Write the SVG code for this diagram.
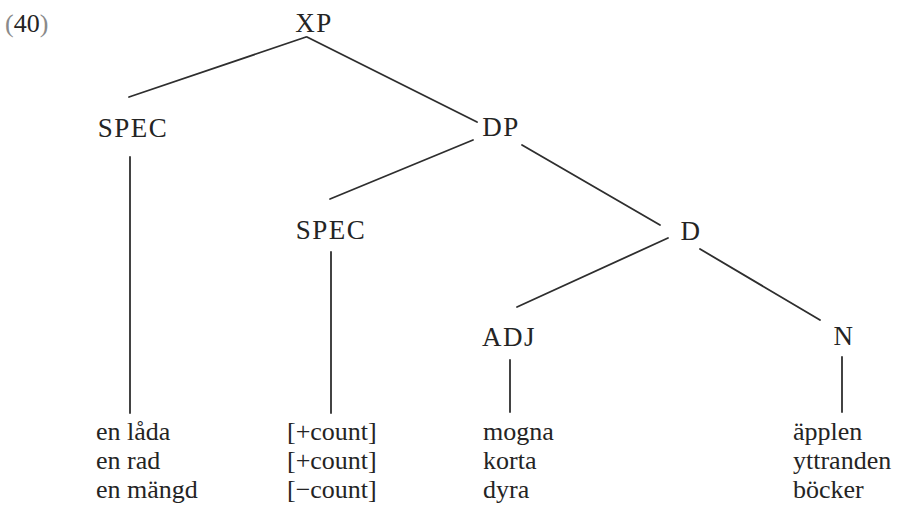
<svg xmlns="http://www.w3.org/2000/svg" width="904" height="523" viewBox="0 0 904 523">
  <style>
    text { font-family: "Liberation Serif", "Times New Roman", serif; font-size: 26px; fill: #242424; }
    .cat { text-anchor: middle; font-size: 27px; letter-spacing: 1.5px; }
    .paren { fill: #8a8a8a; }
    .edges line { stroke: #2e2e2e; stroke-width: 1.8; stroke-linecap: round; }
  </style>
  <rect width="904" height="523" fill="#fff"/>

  <!-- example number -->
  <text id="exnum" x="5" y="32"><tspan class="paren">(</tspan>40<tspan class="paren">)</tspan></text>

  <!-- tree branches -->
  <g class="edges" id="edges">
    <line x1="306" y1="37" x2="129" y2="97"/>
    <line x1="307" y1="37" x2="477" y2="122"/>
    <line x1="473" y1="140" x2="330" y2="199"/>
    <line x1="522" y1="145" x2="660" y2="225"/>
    <line x1="668" y1="238" x2="517" y2="307"/>
    <line x1="700" y1="249" x2="820" y2="320"/>
    <line x1="130" y1="157" x2="130" y2="413"/>
    <line x1="331" y1="252" x2="331" y2="413"/>
    <line x1="510" y1="360" x2="510" y2="412"/>
    <line x1="842" y1="357" x2="842" y2="412"/>
  </g>

  <!-- category nodes -->
  <g id="xp"><text class="cat" x="314" y="32">XP</text></g>
  <g id="spec1"><text class="cat" x="133" y="137">SPEC</text></g>
  <g id="dp"><text class="cat" x="501" y="136">DP</text></g>
  <g id="spec2"><text class="cat" x="331" y="239">SPEC</text></g>
  <g id="d"><text class="cat" x="691" y="240">D</text></g>
  <g id="adj"><text class="cat" x="509" y="346">ADJ</text></g>
  <g id="n"><text class="cat" x="844" y="345">N</text></g>

  <!-- word lists under the leaves -->
  <g id="leaf-spec1">
    <text x="96" y="440">en låda</text>
    <text x="96" y="469">en rad</text>
    <text x="96" y="498">en mängd</text>
  </g>
  <g id="leaf-spec2">
    <text x="287" y="440">[+count]</text>
    <text x="287" y="469">[+count]</text>
    <text x="287" y="498">[−count]</text>
  </g>
  <g id="leaf-adj">
    <text x="483" y="440">mogna</text>
    <text x="483" y="469">korta</text>
    <text x="483" y="498">dyra</text>
  </g>
  <g id="leaf-n">
    <text x="793" y="440">äpplen</text>
    <text x="793" y="469">yttranden</text>
    <text x="793" y="498">böcker</text>
  </g>
</svg>
